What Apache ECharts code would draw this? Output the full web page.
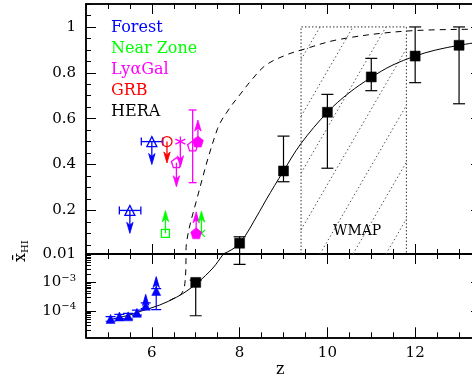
<!DOCTYPE html>
<html><head><meta charset="utf-8">
<script src="https://cdn.jsdelivr.net/npm/echarts@6/dist/echarts.min.js"></script>
<style>html,body{margin:0;padding:0;background:#fff}#c{width:472px;height:382px}</style>
</head><body><div id="c"></div>
<script>
const FONT = "'DejaVu Serif', serif";
const BLUE = '#0000ff', GREEN = '#00ff00', MAG = '#ff00ff', RED = '#ff0000', BLK = '#000000';
const L = Math.log10;

// ---- axes / tick labels ----
const xMajorTicks = [6, 8, 10, 12];
const xTickLabels = ['6', '8', '10', '12'];
const yTopTicks = [0.2, 0.4, 0.6, 0.8, 1];
const yTopTickLabels = ['0.2', '0.4', '0.6', '0.8', '1'];
const yBotTicks = [1e-4, 1e-3, 1e-2];
const yBotTickLabels = ['10{s|\u22124}', '10{s|\u22123}', '0.01'];

// ---- model curves ----
const solidZ = [5.0, 5.5, 5.73, 6.18, 6.56, 6.78, 7.05, 7.39, 7.62, 8.0, 8.45, 8.6, 9.0, 9.4, 10.0, 10.49, 11.0, 11.47, 12.0, 12.46, 13.0, 13.5];
const solidX = [4.7e-5, 7.2e-5, 9.5e-5, 1.6e-4, 3.0e-4, 4.8e-4, 1.0e-3, 3.2e-3, 9.5e-3, 0.057, 0.194, 0.245, 0.372, 0.492, 0.628, 0.712, 0.78, 0.832, 0.873, 0.899, 0.92, 0.935];
const dashZ = [6.40, 6.55, 6.66, 6.73, 6.76, 6.775, 6.785, 7.01, 7.50, 7.77, 8.0, 8.3, 8.6, 9.05, 9.4, 10.28, 11.8, 13.5];
const dashX = [2.3e-4, 3.0e-4, 3.8e-4, 6.0e-4, 1.2e-3, 3.0e-3, 0.05, 0.238, 0.558, 0.645, 0.703, 0.775, 0.834, 0.877, 0.899, 0.946, 0.982, 0.99];

// ---- WMAP band ----
const wmapZ = [9.4, 11.8];
const wmapX = [0.01, 1.0];

// ---- HERA ----
const heraZ = [7, 8, 9, 10, 11, 12, 13];
const heraX = [0.001, 0.057, 0.372, 0.628, 0.782, 0.873, 0.92];
const heraLo = [6.7e-5, 0.0043, 0.325, 0.384, 0.722, 0.757, 0.665];
const heraHi = [0.0012, 0.085, 0.524, 0.706, 0.863, 1.0, 1.0];

// ---- Forest upper limits (top panel) ----
const forestUlZ = [5.5, 6.0];
const forestUlX = [0.2, 0.5];
const forestUlZLo = [5.26, 5.76];
const forestUlZHi = [5.75, 6.25];
const forestUlTo = [0.10, 0.40];

// ---- Forest measurements (bottom panel) ----
const forestZ = [5.06, 5.26, 5.46, 5.66, 5.86, 6.10];
const forestX = [5.2e-5, 6.3e-5, 6.4e-5, 8.5e-5, 1.5e-4, 5.0e-4];
const forestLo = [4.3e-5, 5.3e-5, 5.1e-5, 7.1e-5, 1.2e-4, 1.1e-4];
const forestHi = [6.3e-5, 7.5e-5, 8.1e-5, 1.05e-4, 1.9e-4, 6.0e-4];
const forestLlZ = [5.86, 6.10];
const forestLlX = [1.5e-4, 5.0e-4];
const forestLlTo = [3.8e-4, 1.6e-3];

// ---- GRB upper limit ----
const grbZ = [6.345];
const grbX = [0.5];
const grbTo = [0.407];

// ---- Ly-alpha galaxies ----
const lyaStarZ = [6.65], lyaStarX = [0.5], lyaStarTo = [0.39];
const lyaOpenZ = [6.56], lyaOpenX = [0.408], lyaOpenTo = [0.303];
const lyaErrZ = [6.93], lyaErrX = [0.481], lyaErrLo = [0.321], lyaErrHi = [0.638];
const lyaFillZ = [7.05, 7.01], lyaFillX = [0.5, 0.10], lyaFillTo = [0.594, 0.194];

// ---- Near zone lower limits ----
const nzSqZ = [6.31], nzSqX = [0.10], nzSqTo = [0.199];
const nzXZ = [7.13], nzXX = [0.10], nzXTo = [0.197];

// ---- legend ----
const legendNames = ['Forest', 'Near Zone', 'Ly\u03b1Gal', 'GRB', 'HERA'];
const legendColors = [BLUE, GREEN, MAG, RED, BLK];

// ================= helpers =================
const xMinor = []; for (let v = 4.5; v <= 13.5001; v += 0.5) xMinor.push(+v.toFixed(2));
const yTopMinor = []; for (let v = 0.05; v <= 1.1001; v += 0.05) yTopMinor.push(+v.toFixed(2));
const yBotMinor = []; for (let e = -5; e <= -3; e++) for (let k = 2; k <= 9; k++) yBotMinor.push(L(k * Math.pow(10, e)));
const YBOT_MIN = L(1.17e-5), YBOT_MAX = -2;

const AX = { top: { xAxisIndex: 0, yAxisIndex: 0 }, bot: { xAxisIndex: 2, yAxisIndex: 2 } };
const T = (panel, v) => panel === 'top' ? v : L(v);

function xAx(grid, pos, ticks, len, labels) {
  return {
    type: 'value', gridIndex: grid, position: pos, min: 4.5, max: 13.5,
    axisLine: { show: true, onZero: false, lineStyle: { color: BLK, width: 1.5 } },
    axisTick: { show: true, inside: true, length: len, customValues: ticks, lineStyle: { color: BLK, width: 1 } },
    axisLabel: labels ? { show: true, customValues: xMajorTicks, formatter: v => xTickLabels[xMajorTicks.indexOf(v)], fontFamily: FONT, fontSize: 15, color: BLK, margin: 8 } : { show: false },
    splitLine: { show: false }
  };
}
function yAx(grid, pos, min, max, ticks, len, labelVals, labelTexts) {
  return {
    type: 'value', gridIndex: grid, position: pos, min: min, max: max,
    axisLine: { show: true, onZero: false, lineStyle: { color: BLK, width: 1.5 } },
    axisTick: { show: true, inside: true, length: len, customValues: ticks, lineStyle: { color: BLK, width: 1 } },
    axisLabel: labelVals ? {
      show: true, customValues: labelVals,
      formatter: v => { let i = labelVals.findIndex(u => Math.abs(u - v) < 1e-9); return i < 0 ? '' : labelTexts[i]; },
      fontFamily: FONT, fontSize: 15, color: BLK, margin: 10,
      rich: { s: { fontFamily: FONT, fontSize: 10, padding: [0, 0, 9, 0], color: BLK } }
    } : { show: false },
    splitLine: { show: false }
  };
}

function lineSeries(panel, zs, xs, dashed) {
  return Object.assign({
    type: 'line', data: zs.map((z, i) => [z, T(panel, xs[i])]), showSymbol: false, symbol: 'none',
    smooth: 0.35, clip: true, silent: true, z: 2,
    lineStyle: { color: BLK, width: 1, type: dashed ? [6, 5] : 'solid' }
  }, AX[panel]);
}
function arrowSeries(panel, zs, from, to, color) {
  return Object.assign({
    type: 'custom', clip: true, silent: true, z: 4,
    data: zs.map((z, i) => [z, T(panel, from[i]), T(panel, to[i])]),
    renderItem: (p, api) => {
      const a = api.coord([api.value(0), api.value(1)]);
      const b = api.coord([api.value(0), api.value(2)]);
      const dir = b[1] > a[1] ? 1 : -1;
      const hl = 11, hw = 3.2;
      return { type: 'group', children: [
        { type: 'line', shape: { x1: a[0], y1: a[1], x2: b[0], y2: b[1] - dir * 4 }, style: { stroke: color, lineWidth: 1.3 } },
        { type: 'polygon', shape: { points: [[b[0], b[1]], [b[0] - hw, b[1] - dir * hl], [b[0], b[1] - dir * (hl - 3)], [b[0] + hw, b[1] - dir * hl]] }, style: { fill: color, stroke: color, lineWidth: 0.8 } }
      ] };
    }
  }, AX[panel]);
}
function vErrSeries(panel, zs, lo, hi, color, cap, lw) {
  return Object.assign({
    type: 'custom', clip: true, silent: true, z: 3,
    data: zs.map((z, i) => [z, T(panel, lo[i]), T(panel, hi[i])]),
    renderItem: (p, api) => {
      const a = api.coord([api.value(0), api.value(1)]);
      const b = api.coord([api.value(0), api.value(2)]);
      const st = { stroke: color, lineWidth: lw };
      return { type: 'group', children: [
        { type: 'line', shape: { x1: a[0], y1: a[1], x2: b[0], y2: b[1] }, style: st },
        { type: 'line', shape: { x1: a[0] - cap, y1: a[1], x2: a[0] + cap, y2: a[1] }, style: st },
        { type: 'line', shape: { x1: b[0] - cap, y1: b[1], x2: b[0] + cap, y2: b[1] }, style: st }
      ] };
    }
  }, AX[panel]);
}
function hErrSeries(panel, ys, zlo, zhi, color, cap) {
  return Object.assign({
    type: 'custom', clip: true, silent: true, z: 3,
    data: ys.map((y, i) => [zlo[i], T(panel, y), zhi[i]]),
    renderItem: (p, api) => {
      const a = api.coord([api.value(0), api.value(1)]);
      const b = api.coord([api.value(2), api.value(1)]);
      const st = { stroke: color, lineWidth: 1.3 };
      return { type: 'group', children: [
        { type: 'line', shape: { x1: a[0], y1: a[1], x2: b[0], y2: b[1] }, style: st },
        { type: 'line', shape: { x1: a[0], y1: a[1] - cap, x2: a[0], y2: a[1] + cap }, style: st },
        { type: 'line', shape: { x1: b[0], y1: b[1] - cap, x2: b[0], y2: b[1] + cap }, style: st }
      ] };
    }
  }, AX[panel]);
}
function ptSeries(panel, zs, xs, symbol, size, color, filled) {
  return Object.assign({
    type: 'scatter', clip: true, silent: true, z: 5,
    data: zs.map((z, i) => [z, T(panel, xs[i])]),
    symbol: symbol, symbolSize: size,
    itemStyle: filled ? { color: color, borderColor: color, borderWidth: 0.5, opacity: 1 } : { color: 'rgba(0,0,0,0)', borderColor: color, borderWidth: 1.3, opacity: 1 }
  }, AX[panel]);
}

const PENT = 'path://M0,-1L0.951,-0.309L0.588,0.809L-0.588,0.809L-0.951,-0.309Z';
const STAR = 'path://M0,-1L0,1M-0.866,-0.5L0.866,0.5M-0.866,0.5L0.866,-0.5';
const XCROSS = 'path://M-1,-1L1,1M-1,1L1,-1';

const wmapSeries = Object.assign({
  type: 'custom', clip: true, silent: true, z: 1,
  data: [[wmapZ[0], wmapX[0], wmapZ[1], wmapX[1]]],
  renderItem: (p, api) => {
    const a = api.coord([api.value(0), api.value(3)]);
    const b = api.coord([api.value(2), api.value(1)]);
    const xl = a[0], yt = a[1], xr = b[0], yb = b[1];
    const k = 1.72, sp = 33, x0 = 320;
    const hatch = { stroke: '#555', lineWidth: 1, lineDash: [1.5, 2.5] };
    const border = { stroke: '#333', lineWidth: 1, lineDash: [1.5, 2] };
    const ch = [
      { type: 'polyline', shape: { points: [[xl, yb], [xl, yt], [xr, yt], [xr, yb]] }, style: Object.assign({ fill: null }, border) }
    ];
    const H = yb - yt;
    let start = x0 - Math.ceil((x0 - (xl - H / k)) / sp) * sp;
    for (let xb = start; xb <= xr; xb += sp) {
      const t0 = Math.max(xl - xb, 0), t1 = Math.min(xr - xb, H / k);
      if (t1 > t0) ch.push({ type: 'line', shape: { x1: xb + t0, y1: yb - k * t0, x2: xb + t1, y2: yb - k * t1 }, style: hatch });
    }
    return { type: 'group', children: ch };
  }
}, AX.top);

// HERA split by panel
const heraTopIdx = heraZ.map((z, i) => i).filter(i => heraX[i] >= 0.01);
const heraBotIdx = heraZ.map((z, i) => i).filter(i => heraX[i] < 0.01);
const pick = (arr, idx) => idx.map(i => arr[i]);

const series = [
  wmapSeries,
  lineSeries('top', solidZ, solidX, false),
  lineSeries('bot', solidZ, solidX, false),
  lineSeries('top', dashZ, dashX, true),
  lineSeries('bot', dashZ, dashX, true),
  // HERA
  vErrSeries('top', heraZ, heraLo, heraHi, BLK, 6, 1.2),
  vErrSeries('bot', heraZ, heraLo, heraHi, BLK, 6, 1.2),
  ptSeries('top', pick(heraZ, heraTopIdx), pick(heraX, heraTopIdx), 'rect', 10, BLK, true),
  ptSeries('bot', pick(heraZ, heraBotIdx), pick(heraX, heraBotIdx), 'rect', 10, BLK, true),
  // Forest top
  hErrSeries('top', forestUlX, forestUlZLo, forestUlZHi, BLUE, 4),
  arrowSeries('top', forestUlZ, forestUlX, forestUlTo, BLUE),
  ptSeries('top', forestUlZ, forestUlX, 'triangle', 10, BLUE, false),
  // Forest bottom
  vErrSeries('bot', forestZ, forestLo, forestHi, BLUE, 5, 1.2),
  arrowSeries('bot', forestLlZ, forestLlX, forestLlTo, BLUE),
  ptSeries('bot', forestZ, forestX, 'triangle', 9, BLUE, true),
  // GRB
  arrowSeries('top', grbZ, grbX, grbTo, RED),
  ptSeries('top', grbZ, grbX, 'circle', 10, RED, false),
  // Lya
  arrowSeries('top', lyaStarZ, lyaStarX, lyaStarTo, MAG),
  ptSeries('top', lyaStarZ, lyaStarX, STAR, 10, MAG, false),
  arrowSeries('top', lyaOpenZ, lyaOpenX, lyaOpenTo, MAG),
  ptSeries('top', lyaOpenZ, lyaOpenX, PENT, 10, MAG, false),
  vErrSeries('top', lyaErrZ, lyaErrLo, lyaErrHi, MAG, 4, 1.3),
  ptSeries('top', lyaErrZ, lyaErrX, PENT, 10, MAG, false),
  arrowSeries('top', lyaFillZ, lyaFillX, lyaFillTo, MAG),
  // Near zone
  arrowSeries('top', nzSqZ, nzSqX, nzSqTo, GREEN),
  ptSeries('top', nzSqZ, nzSqX, 'rect', 8, GREEN, false),
  arrowSeries('top', nzXZ, nzXX, nzXTo, GREEN),
  ptSeries('top', nzXZ, nzXX, XCROSS, 7, GREEN, false),
  ptSeries('top', lyaFillZ, lyaFillX, PENT, 11, MAG, true)
];

const graphic = legendNames.map((n, i) => ({
  type: 'text', left: 111, top: 20 + i * 21, z: 10,
  style: { text: n, fill: legendColors[i], font: '16px ' + FONT }
}));
graphic.push({ type: 'text', left: 333, top: 224, z: 10, style: { text: 'WMAP', fill: BLK, font: '14px ' + FONT } });
graphic.push({ type: 'text', left: 276, top: 362, z: 10, style: { text: 'z', fill: BLK, font: '16px ' + FONT } });
graphic.push({
  type: 'text', x: 12, y: 262, rotation: Math.PI / 2, z: 10,
  style: { text: '{a|x\u0304}{b|HI}', fill: BLK,
    rich: { a: { fontFamily: FONT, fontSize: 16 }, b: { fontFamily: FONT, fontSize: 10, padding: [8, 0, 0, 0] } } }
});

const chart = echarts.init(document.getElementById('c'), null, { renderer: 'canvas' });
chart.setOption({
  animation: false,
  backgroundColor: '#fff',
  grid: [
    { left: 86, top: 4, width: 395, height: 250, outerBoundsMode: 'none' },
    { left: 86, top: 254, width: 395, height: 83.3, outerBoundsMode: 'none' },
    { left: 86, top: 4, width: 395, height: 250, outerBoundsMode: 'none' },
    { left: 86, top: 254, width: 395, height: 83.3, outerBoundsMode: 'none' }
  ],
  xAxis: [
    xAx(0, 'bottom', xMajorTicks, 10, false),
    xAx(0, 'top', xMajorTicks, 10, false),
    xAx(1, 'bottom', xMajorTicks, 10, true),
    xAx(1, 'top', xMajorTicks, 10, false),
    xAx(2, 'bottom', xMinor, 5, false),
    xAx(2, 'top', xMinor, 5, false),
    xAx(3, 'bottom', xMinor, 5, false),
    xAx(3, 'top', xMinor, 5, false)
  ],
  yAxis: [
    yAx(0, 'left', 0.01, 1.1, yTopTicks, 10, yTopTicks, yTopTickLabels),
    yAx(0, 'right', 0.01, 1.1, yTopTicks, 10, null, null),
    yAx(1, 'left', YBOT_MIN, YBOT_MAX, yBotTicks.map(L), 10, yBotTicks.map(L), yBotTickLabels),
    yAx(1, 'right', YBOT_MIN, YBOT_MAX, yBotTicks.map(L), 10, null, null),
    yAx(2, 'left', 0.01, 1.1, yTopMinor, 5, null, null),
    yAx(2, 'right', 0.01, 1.1, yTopMinor, 5, null, null),
    yAx(3, 'left', YBOT_MIN, YBOT_MAX, yBotMinor, 5, null, null),
    yAx(3, 'right', YBOT_MIN, YBOT_MAX, yBotMinor, 5, null, null)
  ],
  series: series,
  graphic: graphic
});
</script></body></html>
